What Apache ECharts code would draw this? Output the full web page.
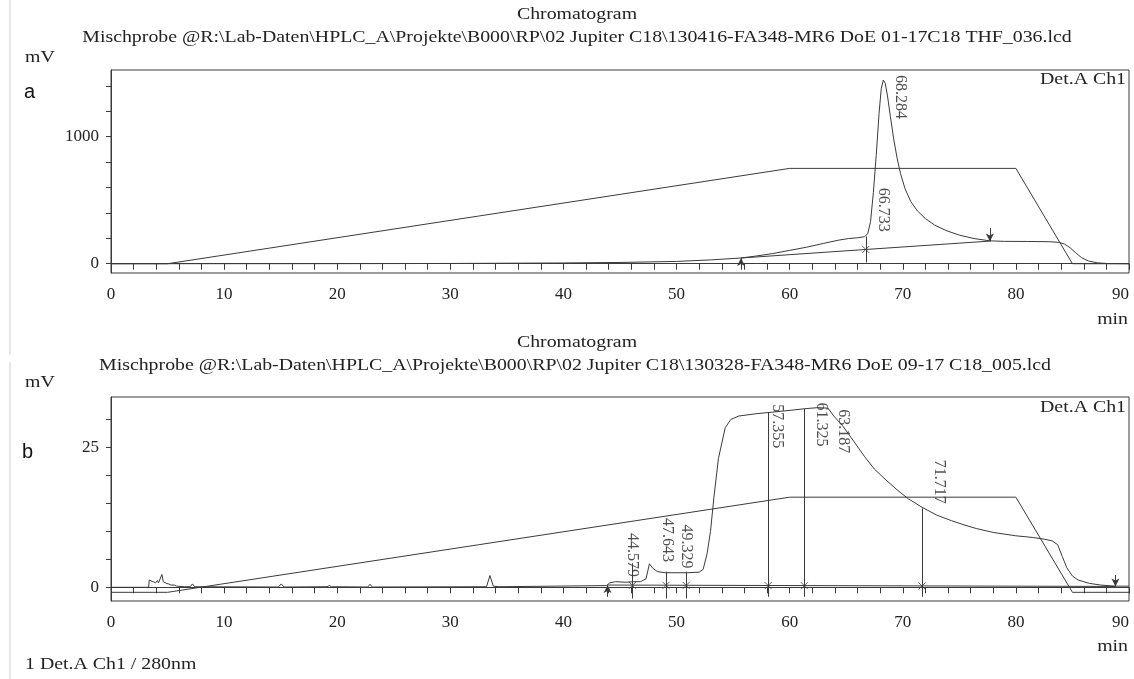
<!DOCTYPE html>
<html>
<head>
<meta charset="utf-8">
<script src="https://cdn.jsdelivr.net/npm/echarts@6/dist/echarts.min.js"></script>
<style>
html, body { margin: 0; padding: 0; background: #fff; }
#chart { width: 1134px; height: 679px; }
</style>
</head>
<body>
<div id="chart"></div>
<script>
// axis ticks / labels
const xTicks = [0,2,4,6,8,10,12,14,16,18,20,22,24,26,28,30,32,34,36,38,40,42,44,46,48,50,52,54,56,58,60,62,64,66,68,70,72,74,76,78,80,82,84,86,88,90]
const xLabels = [0,10,20,30,40,50,60,70,80,90]
const aYTicks = [0,200,400,600,800,1000,1200,1400]
const aYLabels = [0,1000]
const bYTicks = [0,5,10,15,20,25,30]
const bYLabels = [0,25]

// run a: THF_036 (min, mV)
const signalA = [[0,0],[20,0.5],[30,2],[40,6],[45,10],[50,18],[53,30],[55.7,45],[57,60],[58.5,80],[60,105],[61.5,130],[63,160],[64.3,185],[65.2,198],[66,204],[66.6,212],[66.9,235],[67.15,330],[67.4,560],[67.65,850],[67.9,1180],[68.1,1380],[68.28,1445],[68.45,1420],[68.65,1320],[68.9,1160],[69.2,980],[69.5,830],[69.8,710],[70.2,590],[70.7,490],[71.3,415],[72,355],[72.8,305],[73.8,262],[75,225],[76.3,198],[77.7,180],[79,176],[81,175],[83,173],[83.8,168],[84.3,155],[84.8,125],[85.3,85],[85.8,48],[86.4,22],[87.2,7],[88.2,1],[90,0]]
const gradientA = [[0,0],[5,0],[60,750],[80,750],[85,0],[90,0]]
const baselineA = [[55.7,45],[66.73,112],[77.7,178]]
const dropsA = [[66.73,215,10]]
const arrowsA = [[55.7,-47,45],[77.7,280,175]]
const marksA = [[66.73,112]]
const peaksA = [[68.284,1485],[66.733,597]]

// run b: C18_005 (min, mV)
const signalB = [[0,0],[3.33,0],[3.38,1.3],[3.55,1.6],[3.7,1.0],[3.85,1.3],[3.95,0.8],[4.1,1.2],[4.2,0.8],[4.35,1.0],[4.5,2.3],[4.62,1.0],[4.75,1.3],[4.9,0.7],[5.1,0.6],[5.3,0.4],[5.6,0.4],[5.8,0.2],[6.5,0.1],[7.0,0.1],[7.2,0.6],[7.4,0.1],[14.8,0.05],[15.05,0.6],[15.3,0.05],[19.1,0.1],[19.3,0.3],[19.5,0.1],[22.7,0.05],[22.9,0.55],[23.1,0.05],[33.2,0.1],[33.5,2.1],[33.8,0.2],[34.3,0.1],[43.8,0.3],[44.1,0.8],[44.6,1.0],[45.5,0.9],[46.2,1.0],[46.8,1.0],[47.3,1.5],[47.6,4.2],[47.9,3.4],[48.3,2.8],[49,2.6],[51,2.6],[52,2.7],[52.35,3.2],[52.7,6],[53.0,10],[53.3,16],[53.7,23],[54.3,28.5],[54.8,30],[55.5,30.6],[57,31],[58,31.2],[59.5,31.5],[61.3,31.9],[62.5,32.1],[63.4,32],[63.9,30.6],[64.7,28.8],[65.7,26],[66.6,23.4],[67.5,21.1],[68.5,19.2],[69.5,17.4],[70.5,15.8],[71.7,14.3],[73,12.9],[74.3,11.9],[75.5,11.1],[76.5,10.5],[78,9.8],[80,9.2],[81.5,8.9],[82.5,8.6],[83.2,8.3],[83.7,7.6],[84.1,5.5],[84.5,3.5],[85,2.0],[85.5,1.3],[86.5,0.7],[87.5,0.4],[88.8,0.2],[90,0.2]]
const gradientB = [[0,-0.9],[5,-0.9],[60,16.1],[80,16.1],[85,-0.9],[90,-0.9]]
const baselineB = [[43.9,0.4],[88.8,0.15]]
const dropsB = [[46.1,4.3,-2],[49.07,2.8,-2],[50.85,2.8,-2],[58.1,31.2,-1.7],[61.3,31.9,-1.7],[71.7,14.1,-1.7]]
const arrowsB = [[43.9,-1.7,0.4],[88.8,2.2,0.15]]
const marksB = [[46.1,0.35],[49.07,0.35],[50.85,0.33],[58.1,0.3],[61.3,0.28],[71.7,0.23]]
const peaksB = [[44.579,9.7],[47.643,12.4],[49.329,11.2],[57.355,32.7],[61.325,33.0],[63.187,31.8],[71.717,22.8]]

const INK = '#3a3a3a'
const SERIF = '"Liberation Serif", "Times New Roman", serif'
const chart = echarts.init(document.getElementById('chart'))

function xAxis(gridIndex) {
  return {
    type: 'value', gridIndex, min: 0, max: 90,
    axisLine: { lineStyle: { color: INK } },
    axisTick: { customValues: xTicks, length: 6, lineStyle: { color: INK } },
    axisLabel: {
      customValues: xLabels, margin: 13, color: '#222', fontFamily: SERIF, fontSize: 17,
      alignMaxLabel: 'right',
    },
    splitLine: { show: false },
  }
}
function yAxis(gridIndex, min, max, ticks, labels) {
  return {
    type: 'value', gridIndex, min, max,
    axisLine: { show: true, lineStyle: { color: INK } },
    axisTick: { show: true, customValues: ticks, length: 5, lineStyle: { color: INK } },
    axisLabel: {
      customValues: labels, margin: 12, color: '#222', fontFamily: SERIF, fontSize: 17,
      formatter: v => String(v),
    },
    splitLine: { show: false },
  }
}
function line(idx, data) {
  return {
    type: 'line', xAxisIndex: idx, yAxisIndex: idx, data,
    showSymbol: false, silent: true,
    lineStyle: { color: INK, width: 1 },
  }
}
function baseline(idx, data, drops, arrows) {
  const s = line(idx, data)
  s.markLine = {
    silent: true, animation: false,
    lineStyle: { color: INK, width: 1, type: 'solid' },
    label: { show: false },
    data: drops.map(d => [
      { coord: [d[0], d[1]], symbol: 'none' },
      { coord: [d[0], d[2]], symbol: 'none' },
    ]).concat(arrows.map(a => [
      { coord: [a[0], a[1]], symbol: 'none' },
      { coord: [a[0], a[2]], symbol: 'arrow', symbolSize: [6, 8] },
    ])),
  }
  return s
}
function marks(idx, data) {
  return {
    type: 'scatter', xAxisIndex: idx, yAxisIndex: idx, data, silent: true,
    symbol: 'path://M0,0L10,10M10,0L0,10', symbolSize: 7,
    itemStyle: { color: 'none', borderColor: INK, borderWidth: 1 },
  }
}
function peaks(idx, data) {
  return {
    type: 'scatter', xAxisIndex: idx, yAxisIndex: idx, data, silent: true,
    symbolSize: 1, itemStyle: { color: 'transparent' },
    label: {
      show: true, position: 'inside', rotate: -90,
      align: 'left', verticalAlign: 'bottom', padding: [0, 0, 9, 0],
      color: '#222', fontFamily: SERIF, fontSize: 16,
      formatter: p => p.value[0].toFixed(3),
    },
  }
}
function txt(x, y, text, opt = {}) {
  return {
    type: 'text', x, y, scaleX: opt.sx ?? 1.24, silent: true,
    style: {
      text, fill: opt.color || '#222',
      font: (opt.size || 16) + 'px ' + (opt.family || SERIF),
      align: opt.align || 'center', textAlign: opt.align || 'center',
      verticalAlign: 'middle', textVerticalAlign: 'middle',
    },
  }
}

chart.setOption({
  animation: false,
  grid: [
    { left: 111, top: 70, width: 1018, height: 203, show: true, borderColor: INK, borderWidth: 1, containLabel: false, outerBoundsMode: 'none' },
    { left: 111, top: 397, width: 1018, height: 204, show: true, borderColor: INK, borderWidth: 1, containLabel: false, outerBoundsMode: 'none' },
  ],
  xAxis: [xAxis(0), xAxis(1)],
  yAxis: [
    yAxis(0, -73, 1524, aYTicks, aYLabels),
    yAxis(1, -2.45, 34, bYTicks, bYLabels),
  ],
  series: [
    line(0, gradientA),
    baseline(0, baselineA, dropsA, arrowsA),
    line(0, signalA),
    marks(0, marksA),
    peaks(0, peaksA),
    line(1, gradientB),
    baseline(1, baselineB, dropsB, arrowsB),
    line(1, signalB),
    marks(1, marksB),
    peaks(1, peaksB),
  ],
  graphic: [
    { type: 'line', silent: true, shape: { x1: 10, y1: 0, x2: 10, y2: 355 }, style: { stroke: '#cfcfcf', lineWidth: 1 } },
    { type: 'line', silent: true, shape: { x1: 10, y1: 362, x2: 10, y2: 679 }, style: { stroke: '#cfcfcf', lineWidth: 1 } },
    txt(577, 15, 'Chromatogram'),
    txt(577, 38, 'Mischprobe @R:\\Lab-Daten\\HPLC_A\\Projekte\\B000\\RP\\02 Jupiter C18\\130416-FA348-MR6 DoE 01-17C18 THF_036.lcd'),
    txt(25, 58, 'mV', { align: 'left' }),
    txt(24, 92, 'a', { align: 'left', family: '"Liberation Sans", Arial, sans-serif', size: 20, sx: 1, color: '#111' }),
    txt(1126, 80, 'Det.A Ch1', { align: 'right' }),
    txt(1128, 320, 'min', { align: 'right' }),
    txt(577, 343, 'Chromatogram'),
    txt(575, 366, 'Mischprobe @R:\\Lab-Daten\\HPLC_A\\Projekte\\B000\\RP\\02 Jupiter C18\\130328-FA348-MR6 DoE 09-17 C18_005.lcd'),
    txt(25, 383, 'mV', { align: 'left' }),
    txt(22, 452, 'b', { align: 'left', family: '"Liberation Sans", Arial, sans-serif', size: 20, sx: 1, color: '#111' }),
    txt(1126, 408, 'Det.A Ch1', { align: 'right' }),
    txt(1128, 647, 'min', { align: 'right' }),
    txt(25, 665, '1 Det.A Ch1 / 280nm', { align: 'left' }),
  ],
})
</script>
</body>
</html>
